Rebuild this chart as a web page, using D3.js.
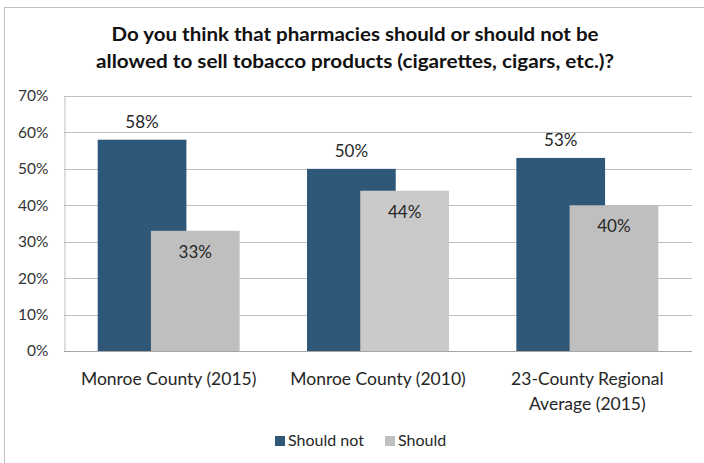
<!DOCTYPE html>
<html>
<head>
<meta charset="utf-8">
<script src="https://cdn.jsdelivr.net/npm/d3@7"></script>
<style>
  html, body { margin: 0; padding: 0; background: #fff; }
  svg { display: block; }
  text { font-family: Lato, "Open Sans", sans-serif; }
</style>
</head>
<body>
<div id="chart"></div>
<script>
const titleLines = [
  "Do you think that pharmacies should or should not be",
  "allowed to sell tobacco products (cigarettes, cigars, etc.)?"
];
const categories = [
  ["Monroe County (2015)"],
  ["Monroe County (2010)"],
  ["23-County Regional", "Average (2015)"]
];
const categoryKeys = ["Monroe County (2015)", "Monroe County (2010)", "23-County Regional Average (2015)"];
const seriesNames = ["Should not", "Should"];
const shouldNot = [58, 50, 53];
const should = [33, 44, 40];
const yTicks = [0, 10, 20, 30, 40, 50, 60, 70];
const blue = "#2F5778";
const grays = ["#BFBFBF", "#CACACA", "#BFBFBF"];

const W = 704, H = 463;
const svg = d3.select("#chart").append("svg").attr("width", W).attr("height", H);

// outer chart border
svg.append("rect").attr("x", 4.5).attr("y", 7.5).attr("width", 720).attr("height", 480)
  .attr("fill", "none").attr("stroke", "#BFBFBF").attr("stroke-width", 1);

// title
const titleW = [487, 518];
svg.selectAll("text.title").data(titleLines).join("text")
  .attr("class", "title")
  .attr("x", 355).attr("y", (d, i) => 41 + i * 27)
  .attr("text-anchor", "middle")
  .attr("font-size", 19).attr("font-weight", "bold").attr("fill", "#111")
  .attr("textLength", (d, i) => titleW[i]).attr("lengthAdjust", "spacingAndGlyphs")
  .text(d => d);

const plotLeft = 64, plotRight = 692, plotTop = 96, plotBottom = 351;
const y = d3.scaleLinear().domain([0, 70]).range([plotBottom, plotTop]);
const x0 = d3.scaleBand().domain(categoryKeys).range([plotLeft, plotRight]).padding(0);
const step = x0.bandwidth();
const barW = step * 0.4238;
const offset = barW * 0.6;
const clusterStart = (step - (barW + offset)) / 2;
const x1 = d3.scaleBand().domain(seriesNames).range([clusterStart, clusterStart + 2 * offset]).padding(0);

// gridlines
svg.append("g").selectAll("line").data(yTicks.filter(t => t > 0)).join("line")
  .attr("x1", plotLeft).attr("x2", plotRight)
  .attr("y1", d => Math.round(y(d)) + 0.5).attr("y2", d => Math.round(y(d)) + 0.5)
  .attr("stroke", "#BFBFBF").attr("stroke-width", 1);

// y axis
const yAxis = d3.axisLeft(y).tickValues(yTicks).tickSize(0).tickPadding(16)
  .tickFormat(d => d + "%");
const gy = svg.append("g").attr("transform", `translate(${plotLeft + 0.5},0)`).call(yAxis);
gy.select(".domain").attr("stroke", "#BFBFBF");
gy.selectAll("text").attr("font-size", 15.5).attr("fill", "#333")
  .attr("font-family", "Lato, 'Open Sans', sans-serif");

// bars
const rows = categoryKeys.map((k, i) => ({ key: k, i, vals: [shouldNot[i], should[i]] }));
const groups = svg.append("g").selectAll("g").data(rows).join("g")
  .attr("transform", d => `translate(${x0(d.key)},0)`);

groups.append("rect")
  .attr("x", x1("Should not")).attr("width", barW)
  .attr("y", d => y(d.vals[0])).attr("height", d => y(0) - y(d.vals[0]))
  .attr("fill", blue);
groups.append("rect")
  .attr("x", x1("Should")).attr("width", barW)
  .attr("y", d => y(d.vals[1])).attr("height", d => y(0) - y(d.vals[1]))
  .attr("fill", d => grays[d.i]);

// data labels
groups.append("text")
  .attr("x", x1("Should not") + barW / 2)
  .attr("y", d => y(d.vals[0]) - 12)
  .attr("text-anchor", "middle").attr("font-size", 17).attr("fill", "#262626")
  .text(d => d.vals[0] + "%");
groups.append("text")
  .attr("x", x1("Should") + barW / 2)
  .attr("y", d => y(d.vals[1]) + 27)
  .attr("text-anchor", "middle").attr("font-size", 17).attr("fill", "#262626")
  .text(d => d.vals[1] + "%");

// baseline
svg.append("line").attr("x1", plotLeft).attr("x2", plotRight)
  .attr("y1", plotBottom + 0.5).attr("y2", plotBottom + 0.5)
  .attr("stroke", "#A6A6A6").attr("stroke-width", 1);

// category labels
groups.each(function(d) {
  const lines = categories[d.i];
  d3.select(this).selectAll("text.cat").data(lines).join("text")
    .attr("class", "cat")
    .attr("x", step / 2).attr("y", (l, j) => 385 + j * 25)
    .attr("text-anchor", "middle").attr("font-size", 17.5).attr("fill", "#262626")
    .text(l => l);
});

// legend
const legend = svg.append("g").attr("transform", "translate(275,436)");
const legX = [0, 110];
const legItems = legend.selectAll("g").data(seriesNames).join("g")
  .attr("transform", (d, i) => `translate(${legX[i]},0)`);
legItems.append("rect").attr("width", 10).attr("height", 10)
  .attr("fill", (d, i) => i === 0 ? blue : grays[0]);
legItems.append("text").attr("x", 13).attr("y", 10)
  .attr("font-size", 16).attr("fill", "#262626").text(d => d);
</script>
</body>
</html>
